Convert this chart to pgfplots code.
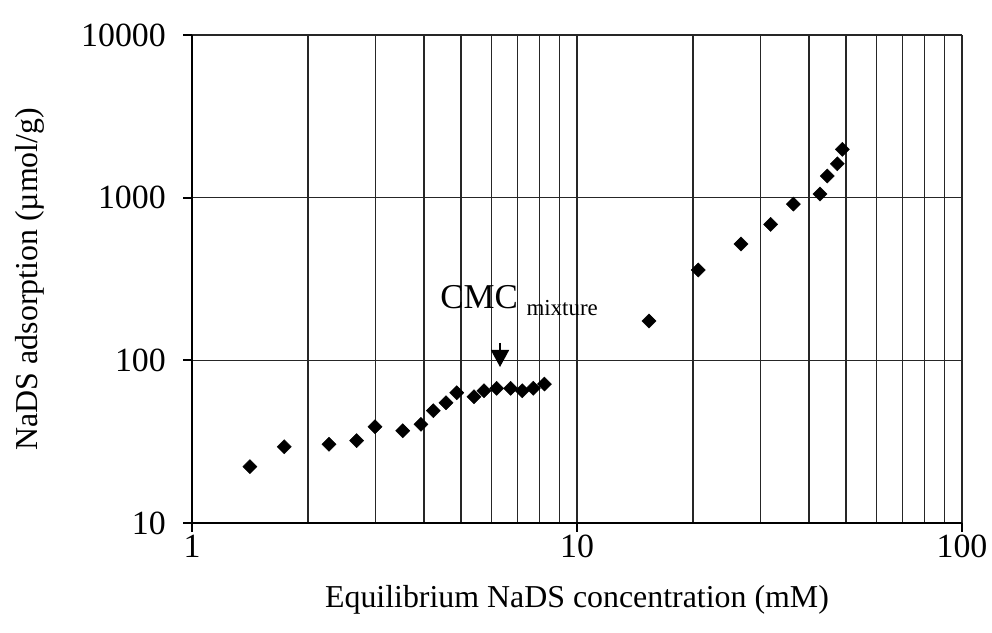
\documentclass[border=0pt]{standalone}
\usepackage{fontspec}
\setmainfont{Liberation Serif}
\usepackage{pgfplots}
\pgfplotsset{compat=1.18}
\usetikzlibrary{arrows.meta}
\begin{document}
\begin{tikzpicture}
\path[use as bounding box] (-192bp,-110bp) rectangle (800bp,523bp);
\begin{axis}[
  scale only axis,
  width=770bp, height=488bp,
  xmode=log, ymode=log,
  xmin=1, xmax=100, ymin=10, ymax=10000,
  xtick={1,10,100}, xticklabels={1,10,100},
  ytick={10,100,1000,10000}, yticklabels={10,100,1000,10000},
  axis x line*=bottom, axis y line*=left,
  axis line style={-, line width=2.6bp, black},
  tick align=outside,
  major tick length=9bp, minor tick length=0pt,
  tick style={line width=2bp, black},
  xmajorgrids=true, xminorgrids=true, ymajorgrids=true, yminorgrids=false,
  major grid style={line width=1.5bp, black!85},
  minor grid style={line width=1.5bp, black!85},
  every tick label/.style={font=\fontsize{34}{40}\selectfont},
  xticklabel style={inner sep=2bp, yshift=-1bp},
  yticklabel style={inner sep=3bp, xshift=-14bp},
  label style={font=\fontsize{32}{38}\selectfont},
  xlabel={Equilibrium NaDS concentration (mM)},
  ylabel={NaDS adsorption (µmol/g)},
  xlabel style={at={(axis description cs:0.5,-0.1578)}, anchor=center},
  ylabel style={at={(axis description cs:-0.2104,0.5)}, anchor=center},
  clip=false,
]
\addplot[only marks, mark=square*, mark size=5bp, mark options={rotate=45, fill=black, draw=black}] coordinates {
(1.414,22.2) (1.736,29.4) (2.269,30.5) (2.678,32.1) (2.988,39.1)
(3.526,36.9) (3.934,40.4) (4.235,49.0) (4.568,54.9) (4.870,63.2)
(5.401,59.7) (5.734,65.0) (6.185,67.3) (6.725,67.3) (7.211,65.0)
(7.700,67.3) (8.23,71.5)
(15.38,174.4) (20.65,359) (26.67,518.6) (31.85,685) (36.47,913)
(42.77,1052) (44.68,1358) (47.45,1616) (48.88,1982)
};
\draw[line width=1.8bp, -{Triangle[width=18bp,length=17bp]}] (axis cs:6.31,128) -- (axis cs:6.31,91);
\node[anchor=base west, inner sep=0pt, font=\fontsize{35}{40}\selectfont] at (axis cs:4.41,209.7) {CMC {\fontsize{23}{26}\selectfont\raisebox{-7bp}{mixture}}};
\end{axis}
\end{tikzpicture}
\end{document}
